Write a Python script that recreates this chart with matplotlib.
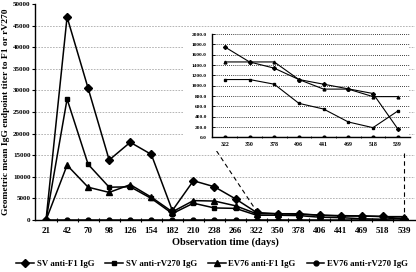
import matplotlib
matplotlib.use('Agg')
import matplotlib.pyplot as plt
from matplotlib.patches import Rectangle

plt.rcParams['font.family'] = 'Liberation Serif'
plt.rcParams['font.weight'] = 'bold'

days = ['21', '42', '70', '98', '126', '154', '182', '210', '238', '266',
        '322', '350', '378', '406', '441', '469', '518', '539']

sv_f1 = [0, 47000, 30500, 13900, 18000, 15200, 2200, 9100, 7700, 4900,
         1750, 1460, 1340, 1120, 1030, 940, 850, 170]
sv_rv270 = [0, 28000, 12900, 7600, 7700, 5000, 1500, 3900, 2800, 2700,
            1120, 1120, 1030, 660, 550, 300, 190, 510]
ev76_f1 = [0, 12700, 7600, 6400, 8200, 5300, 1900, 4500, 4400, 3300,
           1460, 1460, 1460, 1120, 935, 935, 790, 790]
ev76_rv270 = [0] * 18

inset_from = 10  # inset shows 322..539

series = [
    ('SV anti-F1 IgG', sv_f1, 'D', 4.5),
    ('SV anti-rV270 IgG', sv_rv270, 's', 3.5),
    ('EV76 anti-F1 IgG', ev76_f1, '^', 4.5),
    ('EV76 anti-rV270 IgG', ev76_rv270, 'o', 3.5),
]

fig = plt.figure(figsize=(4.16, 2.72), dpi=100)
ax = fig.add_axes([0.0853, 0.191, 0.9111, 0.794])

x = list(range(len(days)))
for label, vals, m, ms in series:
    ax.plot(x, vals, color='black', lw=1.1, marker=m, markersize=ms, label=label, zorder=3)

for yv in range(5000, 50000, 5000):
    ax.axhline(yv, color='#aaaaaa', lw=0.6, ls=(0, (2, 1.5)), zorder=1)

ax.set_xlim(-0.5, len(days) - 0.5)
ax.set_ylim(0, 50000)
ax.set_yticks(range(0, 50001, 5000))
ax.set_xticks(x)
ax.set_xticklabels(days)
ax.set_xticks([i + 0.5 for i in x[:-1]], minor=True)
ax.tick_params(axis='x', which='major', length=0, labelsize=6.5, pad=5)
ax.tick_params(axis='x', which='minor', length=3, direction='inout', width=0.8)
ax.tick_params(axis='y', labelsize=5, length=2.5, width=0.8, pad=1)
for s in ['top', 'right']:
    ax.spines[s].set_visible(False)
for s in ['left', 'bottom']:
    ax.spines[s].set_linewidth(1.0)

ax.set_xlabel('Observation time (days)', fontsize=7.5, fontweight='bold', labelpad=2)
ax.set_ylabel('Geometric mean IgG endpoint titer to F1 or rV270', fontsize=6.8,
              fontweight='bold', labelpad=2)

# connector lines from inset to main plot
ax.plot([inset_from - 1.9, inset_from], [16000, sv_f1[inset_from] + 300],
        color='black', lw=0.8, ls=(0, (4, 3)), zorder=2)
ax.plot([len(days) - 1] * 2, [15500, 300], color='black', lw=0.8,
        ls=(0, (4, 3)), zorder=2)

# white area behind inset
fig.patches.append(Rectangle((0.442, 0.445), 0.541, 0.452, transform=fig.transFigure,
                             facecolor='white', edgecolor='none', zorder=1))

ins = fig.add_axes([0.5108, 0.4945, 0.4748, 0.3805], zorder=2)
ins.patch.set_alpha(0)
xi = list(range(len(days) - inset_from))
for label, vals, m, ms in series:
    ins.plot(xi, vals[inset_from:], color='black', lw=0.8, marker=m,
             markersize=2.0, zorder=3)
for yv in range(200, 2001, 200):
    ins.axhline(yv, color='black', lw=0.6, ls=(0, (1, 1.5)), zorder=1)
ins.set_xlim(-0.5, len(xi) - 0.5)
ins.set_ylim(0, 2000)
ins.set_yticks(range(0, 2001, 200))
ins.set_yticklabels([f'{v:.1f}' for v in range(0, 2001, 200)])
ins.set_xticks(xi)
ins.set_xticklabels(days[inset_from:])
ins.set_xticks([i + 0.5 for i in xi[:-1]], minor=True)
ins.tick_params(axis='x', which='major', length=0, labelsize=4.2, pad=3)
ins.tick_params(axis='x', which='minor', length=2, direction='inout', width=0.6)
ins.tick_params(axis='y', labelsize=3.9, length=2, direction='in', width=0.6, pad=4)
for s in ['top', 'right']:
    ins.spines[s].set_visible(False)
for s in ['left', 'bottom']:
    ins.spines[s].set_linewidth(1.0)

fig.legend(loc='center', bbox_to_anchor=(0.51, 0.028), ncol=4, frameon=False,
           fontsize=6.3, handlelength=2.0, handletextpad=0.3, columnspacing=1.3,
           borderpad=0)

fig.savefig('out.png', dpi=100)
